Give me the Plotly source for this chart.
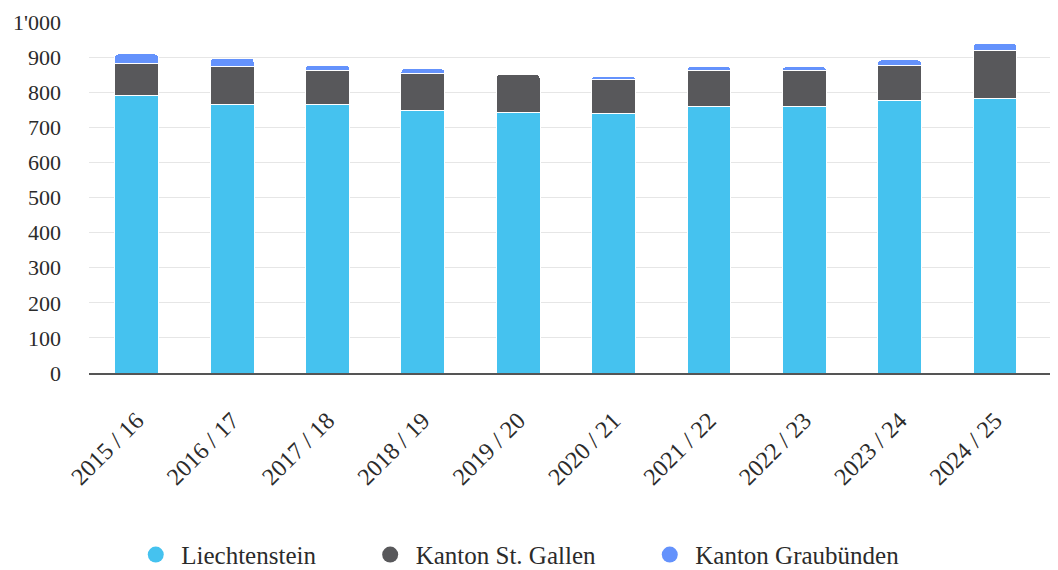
import plotly.graph_objects as go

# school years and pupil counts by home region
years = ["2015 / 16", "2016 / 17", "2017 / 18", "2018 / 19", "2019 / 20",
         "2020 / 21", "2021 / 22", "2022 / 23", "2023 / 24", "2024 / 25"]
liechtenstein = [790, 764, 764, 747, 742, 739, 760, 759, 777, 781]
st_gallen = [93, 109, 98, 105, 108, 97, 102, 103, 100, 138]
graubuenden = [26, 24, 15, 15, 0, 10, 11, 11, 15, 20]

series = [
    ("Liechtenstein", liechtenstein, "#45C2EF"),
    ("Kanton St. Gallen", st_gallen, "#58585B"),
    ("Kanton Graubünden", graubuenden, "#6492FC"),
]

serif = "Liberation Serif, Times New Roman, serif"
pad = "\u00a0" * 7  # extra room between legend entries

fig = go.Figure()
for name, vals, color in series:
    fig.add_trace(go.Bar(
        x=years, y=vals, name=name, showlegend=False,
        marker=dict(color=color, line=dict(color="white", width=1)),
    ))
# round legend symbols
for i, (name, vals, color) in enumerate(series):
    fig.add_trace(go.Scatter(
        x=[None], y=[None], mode="markers",
        name=name + (pad if i < len(series) - 1 else ""),
        marker=dict(color=color, size=22, symbol="circle"),
    ))

# page body has an 8px margin, so the figure is 8px smaller each way
fig.update_layout(
    barmode="stack",
    bargap=0.54,
    barcornerradius=4,
    separators=".'",
    width=1050, height=562,
    margin=dict(l=81, r=0, t=14, b=197, autoexpand=False),
    paper_bgcolor="white",
    plot_bgcolor="white",
    font=dict(family=serif, size=20, color="#2B2B2B"),
    showlegend=True,
    legend=dict(
        orientation="h", xref="container", yref="container",
        x=0.485, xanchor="center", y=0.027, yanchor="middle",
        font=dict(family=serif, size=25, color="#2B2B2B"),
        traceorder="normal",
        itemsizing="trace", itemwidth=41, tracegroupgap=0,
    ),
    xaxis=dict(
        range=[-0.5, 9.66],
        tickangle=-45,
        automargin=False,
        ticklabelstandoff=22,
        tickfont=dict(family=serif, size=24, color="#2B2B2B"),
        showline=True, linecolor="#555555", linewidth=2,
        ticks="", showgrid=False,
    ),
    yaxis=dict(
        range=[0, 1000],
        dtick=100,
        tickformat=",d",
        automargin=False,
        gridcolor="#E6E6E6", gridwidth=1,
        zeroline=False,
        ticklabelstandoff=27,
        tickfont=dict(family=serif, size=22, color="#2B2B2B"),
    ),
)

fig.write_html("out.html")
